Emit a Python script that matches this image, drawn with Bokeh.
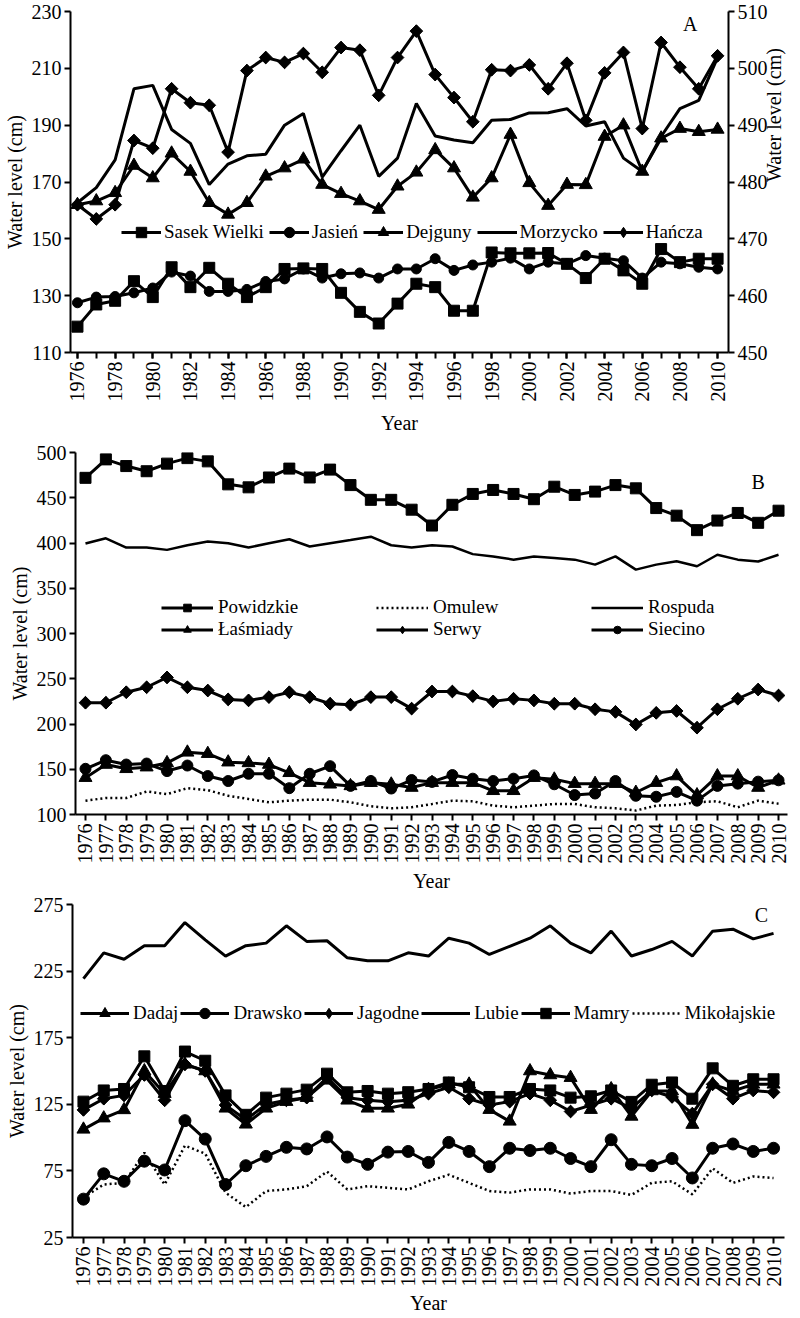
from math import pi
from bokeh.plotting import figure
from bokeh.models import Range1d, LinearAxis, FixedTicker, Legend, LegendItem, Label
from bokeh.embed import file_html
from bokeh.resources import INLINE

FONT = "Liberation Serif"
years = list(range(1976, 2011))

# ---- Panel A ----
sasek_wielki = [119.1, 126.9, 128.2, 135.1, 129.5, 140, 133, 139.8, 134.2, 129.5, 133, 139.4, 139.6, 139.4, 131, 124.3, 120.2, 127.2,
                134.2, 133, 124.7, 124.7, 145.2, 144.9, 144.9, 145, 141.2, 136.2, 143, 138.9, 134.2, 146.4, 141.8, 143, 143]
jasien = [127.5, 129.5, 129.7, 131, 132.7, 138.3, 136.9, 131.5, 131.5, 132.2, 135, 135.9, 139.4, 136.2, 137.7, 138, 136.2, 139.4,
          139.4, 143, 138.9, 140.8, 141.8, 143.2, 139.4, 141.8, 141.2, 144.1, 143.2, 142.3, 136.2, 141.8, 141.2, 140, 139.4]
dejguny = [162, 163.3, 166.2, 175.8, 171.4, 180.1, 173.7, 162.7, 158.6, 162.7, 172, 174.9, 178, 169.1, 165.9, 163.3, 160.3, 168.5,
           173.4, 181.3, 174.9, 164.6, 171.4, 186.7, 169.7, 161.7, 169.1, 169, 186, 190, 173.7, 185.4, 188.8, 187.7, 188.5]
morzycko = [162.7, 168, 177.8, 202.8, 204, 188.5, 183.6, 169.1, 176.3, 179.2, 179.8, 190, 194.1, 171.7, 181, 190, 172, 178.4,
            197.6, 186.2, 184.8, 183.8, 191.7, 192, 194.3, 194.4, 195.8, 189.7, 191.2, 178.4, 173.7, 186, 195.8, 198.7, 213.8]
hancza = [162, 157, 162, 184.6, 181.9, 202.8, 197.9, 197, 180.5, 209.2, 213.8, 212.1, 215.2, 208.6, 217.3, 216.4, 200.5, 213.8,
          223.1, 207.8, 199.7, 191.2, 209.5, 209.2, 211.2, 202.8, 211.8, 191.7, 208.4, 215.6, 188.8, 219.1, 210.4, 202.8, 214.4]
ticks_a_left = [110, 130, 150, 170, 190, 210, 230]
ticks_a_right = [450, 460, 470, 480, 490, 500, 510]

# ---- Panel B ----
powidzkie = [472, 492.4, 485, 479.3, 487.7, 493.8, 490.2, 464.8, 461.5, 472.4, 482.2, 472.4, 481.1, 464, 447.7, 447.7,
             436.8, 419.3, 442.2, 454.2, 458.6, 454.2, 448.4, 462.2, 453.1, 456.8, 464, 460.4, 438.6, 430.2, 414.2, 424.8, 433.2, 422.3, 435.7]
omulew = [115.3, 118.2, 118.2, 125.4, 122.5, 129.1, 126.9, 120.7, 117.1, 113.5, 115.3, 116.4, 116.4, 113.5, 109.1, 106.9,
          108, 111.6, 115.3, 114.6, 109.8, 108, 109.8, 111.6, 111.6, 108, 106.9, 104.4, 109.8, 110.5, 113.5, 114.6, 108, 115.3, 112]
rospuda = [399.4, 405.2, 395, 395, 392.4, 397.5, 401.6, 399.7, 395, 399.7, 404.1, 396.1, 399.7, 403.3, 407, 397.5,
           395, 397.5, 396.1, 387.7, 385.2, 381.6, 385.2, 383.4, 381.6, 376.1, 385.2, 370.6, 376.1, 379.8, 374.3, 387, 381.6, 379.5, 387]
lasmiady = [140.7, 155.2, 150.5, 152.3, 157, 168.7, 167.2, 157.8, 157, 155.2, 146.1, 135.2, 133.4, 131.6, 135.2, 133.4,
            129.8, 135.2, 135.2, 135.2, 126.2, 126.2, 140.7, 138.9, 134.1, 134.1, 134.1, 124.3, 135.2, 142.5, 121.5, 142.5, 142.5, 129.8, 137.8]
serwy = [223.5, 223.5, 235.1, 240.6, 251.5, 240.6, 237, 227.2, 226.1, 229.7, 235.1, 229.7, 222.4, 221.3, 229.7, 229.7,
         217, 235.9, 235.9, 230.8, 225, 227.9, 226.1, 222.4, 222.4, 216.3, 213.4, 199.5, 212.3, 214.4, 195.9, 216.3, 227.9, 238.1, 231.5]
siecino = [150.5, 160, 155.2, 156.3, 148, 154.1, 142.5, 137, 145, 145, 129.1, 145, 153.4, 131.6, 137, 128.7,
           138.1, 136, 143.6, 139.6, 137, 139.6, 143.2, 133.4, 121.5, 123.2, 137, 120.7, 119.6, 125, 115.3, 131.6, 134.1, 136.3, 137.8]
ticks_b = [100, 150, 200, 250, 300, 350, 400, 450, 500]

# ---- Panel C ----
dadaj = [106.2, 114.6, 120.8, 150, 133, 155, 150, 122, 110, 122, 127, 130, 143, 128, 122, 122,
         125, 136, 140, 140, 121, 112.2, 150, 147, 145, 121, 136.5, 115.9, 135, 135, 109.8, 140, 135, 140, 140]
drawsko = [53.8, 72.8, 67.2, 82.3, 75.7, 112.7, 98.9, 64.8, 78.9, 85.9, 92.7, 91.5, 100.5, 85.4, 79.9, 89.1,
           89.6, 81.4, 96.4, 89.6, 78.2, 92, 90.3, 92, 84.3, 78.2, 98.4, 79.9, 78.9, 84.3, 69.7, 92, 95.2, 89.6, 92]
jagodne = [120.8, 129.2, 131.7, 147, 128, 155, 150, 124.4, 113.4, 125, 128, 130, 145, 130, 128, 127,
           128, 133, 137.8, 129.2, 124.4, 127, 133, 128, 119.6, 124.4, 129.2, 122, 135.4, 130.5, 118, 140, 129.2, 135.4, 134]
lubie = [219.3, 238.7, 233.9, 244.1, 244.1, 261.4, 248.5, 236.3, 244.1, 246, 259, 247.3, 247.8, 235, 232.7, 232.7,
         238.7, 236.3, 249.7, 246, 237.5, 243.6, 249.7, 259, 246, 238.7, 255, 236.3, 241.2, 247.3, 236.3, 255, 256.5, 249.2, 253.3]
mamry = [127, 135.4, 136.5, 161, 135, 164.6, 157.7, 131.7, 117.1, 130, 133, 136, 148, 134, 135, 133,
         134.1, 136.5, 141.4, 137.8, 130.5, 130.5, 136.5, 135.4, 130, 131, 135.4, 126.8, 139.7, 141.4, 129.2, 152, 138.9, 143.8, 143.8]
mikolajskie = [55, 64.8, 66, 88.6, 64.8, 94, 87.9, 58.7, 47.8, 59.9, 61.1, 63.5, 74.5, 61.1, 63.5, 62.3,
               61.1, 67.2, 72.1, 66, 59.9, 58.7, 61.1, 61.1, 58, 59.9, 59.9, 56.9, 66, 67.2, 57.4, 76.9, 66, 70.8, 69.7]
ticks_c = [25, 75, 125, 175, 225, 275]


def make_fig(height, xr, yr, left, right, top, bottom):
    p = figure(width=800, height=height, x_range=Range1d(*xr), y_range=Range1d(*yr),
               output_backend="svg", toolbar_location=None,
               min_border_left=left, min_border_right=right,
               min_border_top=top, min_border_bottom=bottom)
    p.outline_line_color = None
    p.xgrid.visible = False
    p.ygrid.visible = False
    p.background_fill_color = "white"
    p.border_fill_color = "white"
    return p


def style_axis(ax, lab_standoff=3):
    ax.axis_line_width = 2
    ax.axis_line_color = "black"
    ax.major_tick_line_width = 2
    ax.major_tick_line_color = "black"
    ax.major_tick_out = 6
    ax.major_tick_in = 0
    ax.minor_tick_line_width = 2
    ax.minor_tick_line_color = "black"
    ax.minor_tick_out = 6
    ax.minor_tick_in = 0
    ax.major_label_text_font = FONT
    ax.major_label_text_font_size = "20px"
    ax.major_label_text_color = "black"
    ax.major_label_standoff = 3
    ax.axis_label_text_font = FONT
    ax.axis_label_text_font_size = "20px"
    ax.axis_label_text_font_style = "normal"
    ax.axis_label_text_color = "black"
    ax.axis_label_standoff = lab_standoff


def series(p, y, label, marker=None, size=10, diamond=False, dash="solid", lw=3):
    rs = [p.line(years, y, line_color="black", line_width=lw, line_dash=dash)]
    if marker and not diamond:
        rs.append(p.scatter(years, y, marker=marker, size=size, fill_color="black", line_color="black"))
    if diamond:
        # diamond marker (used for the legend swatch), covered by a square turned 45 degrees
        rs.append(p.scatter(years, y, marker="diamond", size=12, fill_color="black", line_color="black"))
        p.scatter(years, y, marker="square", size=size, angle=pi / 4, fill_color="black", line_color="black")
    return LegendItem(label=label, renderers=rs)


def make_legend(items, loc, glyph_w, glyph_h, spacing, standoff, ncols=None, label_w=20):
    kw = {}
    if ncols:
        kw["ncols"] = ncols
    lg = Legend(items=items, orientation="horizontal", location=loc,
                glyph_width=glyph_w, glyph_height=glyph_h, label_height=glyph_h, label_width=label_w,
                spacing=spacing, label_standoff=standoff, padding=0, margin=0,
                label_text_font=FONT, label_text_font_size="19px", label_text_color="black",
                border_line_alpha=0, background_fill_alpha=0, **kw)
    return lg


def letter(p, x, y, t):
    p.add_layout(Label(x=x, y=y, text=t, text_font=FONT, text_font_size="20px",
                       text_align="center", text_baseline="middle", text_color="black"))


# ================= Panel A =================
pa = make_fig(436, (1975.63, 2010.58), (110, 230), 70, 72, 11, 84)
pa.extra_y_ranges = {"lev2": Range1d(450, 510)}
ra = LinearAxis(y_range_name="lev2", ticker=FixedTicker(ticks=ticks_a_right),
                axis_label="Water level (cm)")
pa.add_layout(ra, "right")
pa.xaxis.ticker = FixedTicker(ticks=list(range(1976, 2011, 2)), minor_ticks=years)
pa.yaxis.ticker = FixedTicker(ticks=ticks_a_left)
pa.xaxis.axis_label = "Year"
pa.yaxis.axis_label = "Water level (cm)"
pa.xaxis.major_label_orientation = pi / 2
for ax in pa.yaxis:
    style_axis(ax, 3)
for ax in pa.xaxis:
    style_axis(ax, 7)
ra.ticker = FixedTicker(ticks=ticks_a_right)
ra.axis_label_orientation = pi / 2

items_a = [
    series(pa, sasek_wielki, "Sasek Wielki", "square", 11),
    series(pa, jasien, "Jasień", "circle", 10),
    series(pa, dejguny, "Dejguny", "triangle", 13),
    series(pa, morzycko, "Morzycko"),
    series(pa, hancza, "Hańcza", "square", 9, diamond=True),
]
pa.add_layout(make_legend(items_a, (51, 107), 40, 26, 5, 3))
letter(pa, 2008.55, 225.5, "A")

# ================= Panel B =================
pb = make_fig(458, (1975.51, 2010.44), (100, 500), 75, 13, 16, 75)
pb.xaxis.ticker = FixedTicker(ticks=years)
pb.yaxis.ticker = FixedTicker(ticks=ticks_b)
pb.xaxis.axis_label = "Year"
pb.yaxis.axis_label = "Water level (cm)"
pb.xaxis.major_label_orientation = pi / 2
for ax in pb.yaxis:
    style_axis(ax, 3)
for ax in pb.xaxis:
    style_axis(ax, 3)

items_b = [
    series(pb, powidzkie, "Powidzkie", "square", 11),
    series(pb, omulew, "Omulew", dash="2 3", lw=2.5),
    series(pb, rospuda, "Rospuda", lw=2.5),
    series(pb, lasmiady, "Łaśmiady", "triangle", 13),
    series(pb, serwy, "Serwy", "square", 9, diamond=True),
    series(pb, siecino, "Siecino", "circle", 11),
]
pb.add_layout(make_legend(items_b, (86, 174), 52, 19, 0, 5, ncols=3, label_w=158))
letter(pb, 2009.0, 467, "B")

# ================= Panel C =================
pc = make_fig(422, (1975.46, 2010.54), (25, 275), 72, 16, 10, 74)
pc.xaxis.ticker = FixedTicker(ticks=years)
pc.yaxis.ticker = FixedTicker(ticks=ticks_c)
pc.xaxis.axis_label = "Year"
pc.yaxis.axis_label = "Water level (cm)"
pc.xaxis.major_label_orientation = pi / 2
for ax in pc.yaxis:
    style_axis(ax, 3)
for ax in pc.xaxis:
    style_axis(ax, 2)

items_c = [
    series(pc, dadaj, "Dadaj", "triangle", 13),
    series(pc, drawsko, "Drawsko", "circle", 12),
    series(pc, jagodne, "Jagodne", "square", 9, diamond=True),
    series(pc, lubie, "Lubie"),
    series(pc, mamry, "Mamry", "square", 11),
    series(pc, mikolajskie, "Mikołajskie", dash="2 3", lw=2.5),
]
pc.add_layout(make_legend(items_c, (8, 211), 49, 26, 2, 4))
letter(pc, 2009.4, 266.9, "C")

open("out.html", "w").write(file_html([pa, pb, pc], INLINE))
